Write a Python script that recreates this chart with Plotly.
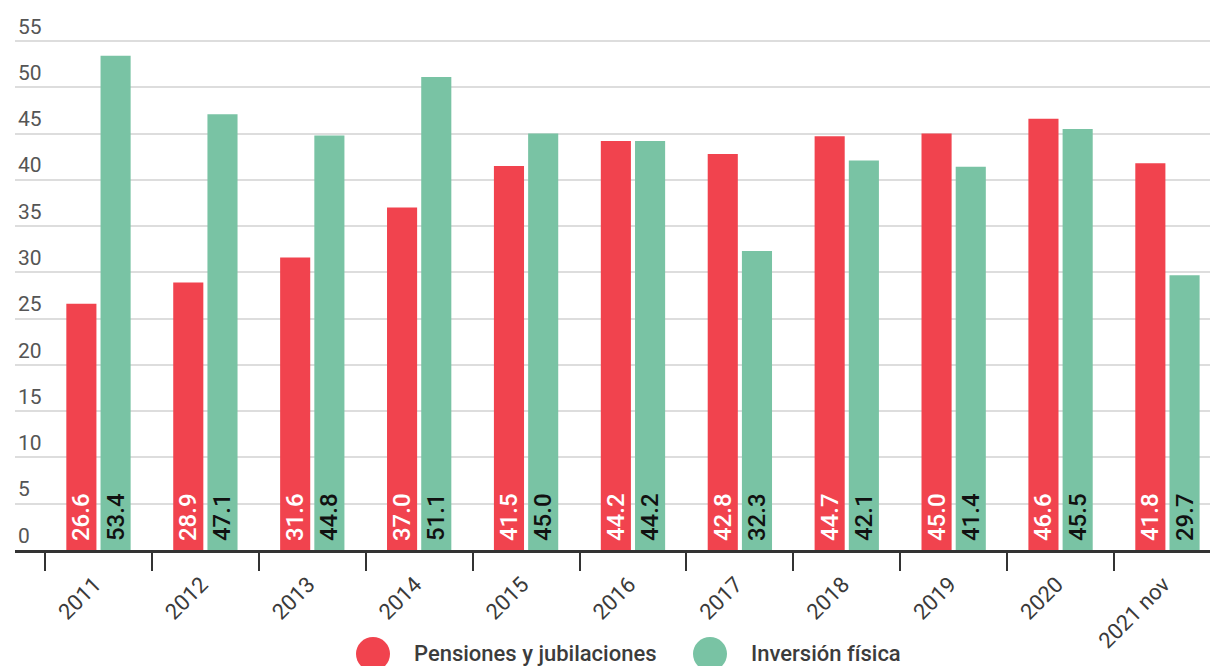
import plotly.graph_objects as go

# Series values per year
years = ["2011", "2012", "2013", "2014", "2015", "2016", "2017", "2018", "2019", "2020", "2021 nov"]
pensiones = [26.6, 28.9, 31.6, 37.0, 41.5, 44.2, 42.8, 44.7, 45.0, 46.6, 41.8]
inversion = [53.4, 47.1, 44.8, 51.1, 45.0, 44.2, 32.3, 42.1, 41.4, 45.5, 29.7]
series_names = ["Pensiones y jubilaciones", "Inversión física"]
y_ticks = [0, 5, 10, 15, 20, 25, 30, 35, 40, 45, 50, 55]

RED = "#F1434E"
GREEN = "#79C3A4"
FONT = "Roboto"
NBSP = "\u00a0"

# Value labels sit at the base of each bar, rotated; a leading no-break space lifts them off the axis
bar_text = dict(
    texttemplate=NBSP + "%{y:.1f}", textposition="inside", insidetextanchor="start",
    textangle=-90, constraintext="none", cliponaxis=False, showlegend=False,
)
fig = go.Figure()
fig.add_trace(go.Bar(
    x=years, y=pensiones, name=series_names[0], marker=dict(color=RED, line=dict(width=0)),
    textfont=dict(family=FONT, size=24, weight=500, color="#FFFFFF"), **bar_text,
))
fig.add_trace(go.Bar(
    x=years, y=inversion, name=series_names[1], marker=dict(color=GREEN, line=dict(width=0)),
    textfont=dict(family=FONT, size=24, weight=500, color="#111111"), **bar_text,
))

# Plot area geometry (pixels) used to place the legend
L, R, T, B = 15, 0, 4, 116
W, H = 1210, 666
pw, ph = W - L - R, H - T - B


def px_x(px):
    return (px - L) / pw


def px_y(py):
    return (H - B - py) / ph


shapes = []
annotations = []
legend_items = [(series_names[0], RED, 373, 412), (series_names[1], GREEN, 710, 749)]
for name, color, cx, tx in legend_items:
    shapes.append(dict(
        type="circle", xref="paper", yref="paper", xsizemode="pixel", ysizemode="pixel",
        xanchor=px_x(cx), yanchor=px_y(654), x0=-17, x1=17, y0=-17, y1=17,
        fillcolor=color, line=dict(width=0), layer="above",
    ))
    annotations.append(dict(
        text=name, xref="paper", yref="paper", x=px_x(tx), y=px_y(653),
        xanchor="left", yanchor="middle", showarrow=False,
        font=dict(family=FONT, size=22, weight=500, color="#3C3C3C"),
    ))

fig.update_layout(
    width=W, height=H,
    margin=dict(l=L, r=R, t=T, b=B),
    paper_bgcolor="white", plot_bgcolor="white",
    barmode="group", bargap=0.36, bargroupgap=0.12,
    font=dict(family=FONT),
    shapes=shapes, annotations=annotations,
    showlegend=False,
)
fig.update_xaxes(
    type="category", range=[-0.781, 10.398], tickson="boundaries",
    tickmode="array", tickvals=years, ticktext=[y + NBSP for y in years],
    showline=True, linecolor="#333333", linewidth=3,
    ticks="outside", ticklen=18, tickwidth=2, tickcolor="#333333",
    tickangle=-45, ticklabelstandoff=6,
    tickfont=dict(family=FONT, size=22, color="#3A3A3A"),
    showgrid=False, zeroline=False,
)
fig.update_yaxes(
    range=[0, 59], tickvals=y_ticks, ticktext=[str(v) for v in y_ticks],
    ticklabelposition="inside top", tickfont=dict(family=FONT, size=21, color="#555555"),
    showgrid=True, gridcolor="#DDDDDD", gridwidth=2,
    zeroline=False, showline=False, ticks="",
)

fig.write_html("out.html")
